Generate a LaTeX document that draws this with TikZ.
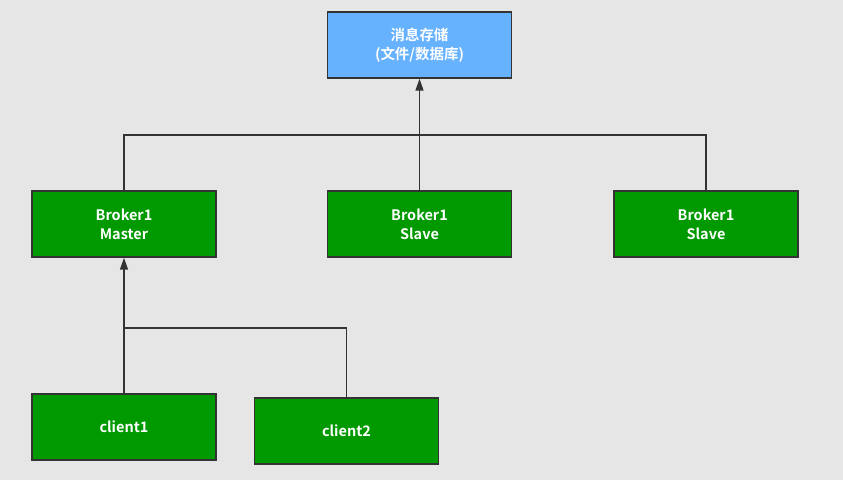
\documentclass[tikz,border=0pt]{standalone}
\usepackage{fontspec}
\setmainfont{Noto Sans CJK SC}[BoldFont={Noto Sans CJK SC Bold}]
\usetikzlibrary{arrows.meta}
\definecolor{bggray}{HTML}{E6E6E6}
\definecolor{storeblue}{HTML}{66B2FF}
\definecolor{nodegreen}{HTML}{009900}
\definecolor{linegray}{HTML}{333333}
\tikzset{
	box/.style={draw=linegray, line width=1pt, minimum width=4.6cm, minimum height=1.65cm, text=white, font=\bfseries\fontsize{10.3}{13.5}\selectfont, align=center, inner sep=0pt},
	greenbox/.style={box, fill=nodegreen},
	bluebox/.style={box, fill=storeblue},
	link/.style={draw=linegray, line width=1.1pt},
	uparrow/.style={link, -{Triangle[length=3mm, width=2mm]}}
}
\begin{document}
\begin{tikzpicture}
	\fill [bggray] (0,0) rectangle (21.075,-12);
	\useasboundingbox (0,0) rectangle (21.075,-12);
	\node [bluebox] (store) at (10.4875,-1.125) {消息存储\\(文件/数据库)};
	\node [greenbox] (master) at (3.1,-5.6) {Broker1\\Master};
	\node [greenbox] (slavea) at (10.4875,-5.6) {Broker1\\Slave};
	\node [greenbox] (slaveb) at (17.65,-5.6) {Broker1\\Slave};
	\node [greenbox] (clienta) at (3.1,-10.675) {client1};
	\node [greenbox] (clientb) at (8.6625,-10.775) {client2};
	\coordinate (bus) at (10.4875,-3.375);
	\coordinate (cbus) at (3.1,-8.2);
	\draw [link] (master.north) |- (bus) -| (slaveb.north);
	\draw [uparrow] (slavea.north) -- (store.south);
	\draw [uparrow] (clienta.north) -- (master.south);
	\draw [link] (clientb.north) |- (cbus);
\end{tikzpicture}
\end{document}
